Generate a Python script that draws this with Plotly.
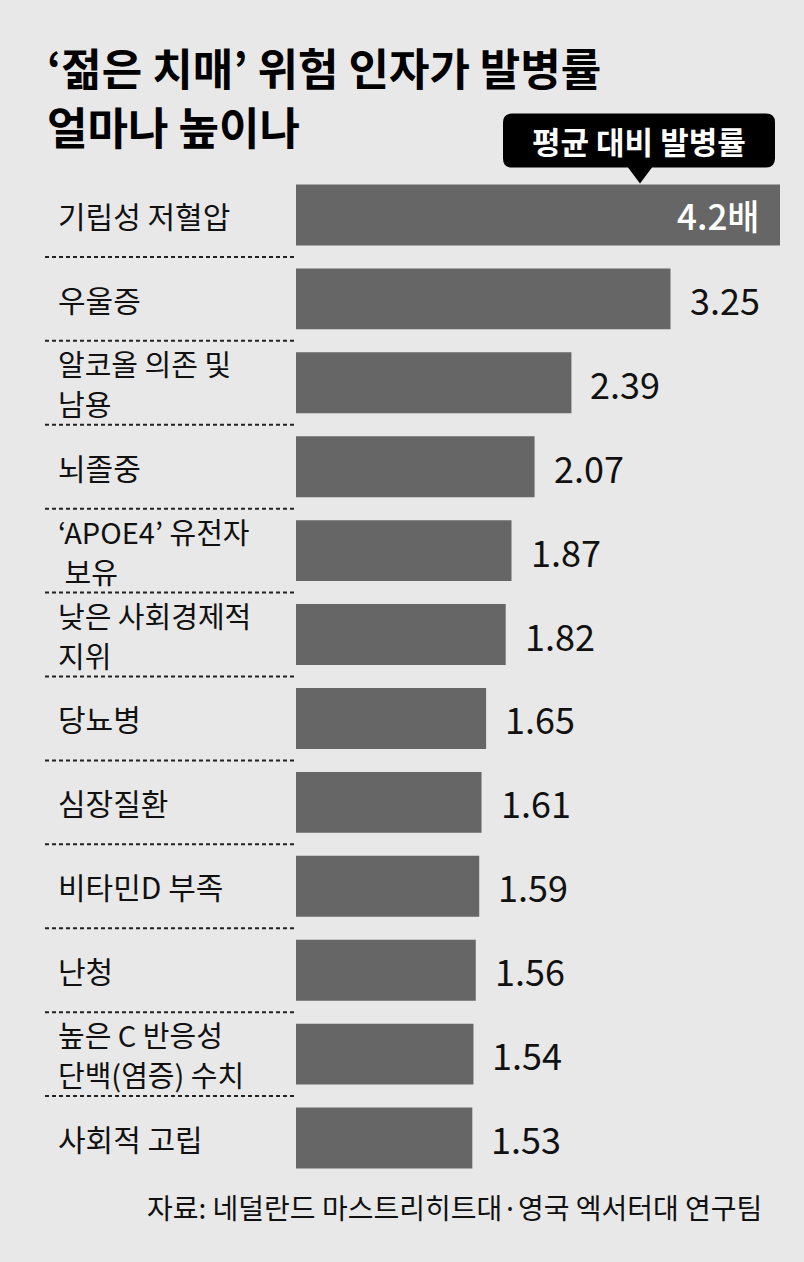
import plotly.graph_objects as go

categories = ["기립성 저혈압", "우울증", "알코올 의존 및<br>남용", "뇌졸중",
              "‘APOE4’ 유전자<br>\u00a0보유", "낮은 사회경제적<br>지위", "당뇨병", "심장질환",
              "비타민D 부족", "난청", "높은 C 반응성<br>단백(염증) 수치", "사회적 고립"]
values = [4.2, 3.25, 2.39, 2.07, 1.87, 1.82, 1.65, 1.61, 1.59, 1.56, 1.54, 1.53]
value_labels = ["4.2배", "3.25", "2.39", "2.07", "1.87", "1.82", "1.65", "1.61",
                "1.59", "1.56", "1.54", "1.53"]
title_lines = ["‘젊은 치매’ 위험 인자가 발병률", "얼마나 높이나"]
legend_text = "평균 대비 발병률"
source_text = "자료: 네덜란드 마스트리히트대·영국 엑서터대 연구팀"

W, H = 804, 1262
L, R = 296, 780
T, B = 172.5, 1180.5
FONT = "Noto Sans CJK KR"
BG = "#e8e8e8"
BAR = "#666666"


def px(x):
    return (x - L) / (R - L)


def py(y):
    return (B - y) / (B - T)


idx = list(range(len(categories)))

fig = go.Figure(go.Bar(
    x=values, y=idx, orientation="h",
    marker=dict(color=BAR, line=dict(width=0)),
    width=0.726, hoverinfo="skip",
))

annotations = []
for i, (c, v, t) in enumerate(zip(categories, values, value_labels)):
    lines = c.split("<br>")
    multi = len(lines) > 1
    shifts = [20, -20] if multi else [0]
    for ln, ys in zip(lines, shifts):
        annotations.append(dict(
            x=px(57), xref="paper", y=i, yref="y", text=ln, showarrow=False,
            xanchor="left", yanchor="middle", align="left", yshift=ys,
            borderpad=0,
            font=dict(family=FONT, size=29 if multi else 30, color="#111111"),
        ))
    if i == 0:
        annotations.append(dict(
            x=v, xref="x", y=i, yref="y", text=t, showarrow=False,
            xanchor="right", yanchor="middle", xshift=-18,
            font=dict(family=FONT, size=35, color="#ffffff", weight=500),
        ))
    else:
        annotations.append(dict(
            x=v, xref="x", y=i, yref="y", text=t, showarrow=False,
            xanchor="left", yanchor="middle", xshift=17,
            font=dict(family=FONT, size=36, color="#111111"),
        ))

for line, yc in zip(title_lines, [66, 125]):
    annotations.append(dict(
        x=px(46), xref="paper", y=py(yc), yref="paper", text=line, showarrow=False,
        xanchor="left", yanchor="middle", borderpad=0,
        font=dict(family=FONT, size=44, color="#000000", weight="bold"),
    ))

annotations.append(dict(
    x=px(639), xref="paper", y=py(140), yref="paper", text=legend_text, showarrow=False,
    xanchor="center", yanchor="middle",
    font=dict(family=FONT, size=31, color="#ffffff", weight="bold"),
))
annotations.append(dict(
    x=px(764), xref="paper", y=py(1208), yref="paper", text=source_text, showarrow=False,
    xanchor="right", yanchor="middle",
    font=dict(family=FONT, size=28, color="#111111"),
))

shapes = []
for i in range(len(categories) - 1):
    shapes.append(dict(
        type="line", xref="paper", yref="y",
        x0=px(45), x1=px(297), y0=i + 0.5, y1=i + 0.5,
        line=dict(color="#222222", width=2, dash="4px,3px"),
    ))

# callout box with rounded corners and pointer
x0, x1, y0, y1, r = 503, 775, 113, 167, 9
pts = [
    f"M {px(x0 + r)},{py(y0)}",
    f"L {px(x1 - r)},{py(y0)}",
    f"Q {px(x1)},{py(y0)} {px(x1)},{py(y0 + r)}",
    f"L {px(x1)},{py(y1 - r)}",
    f"Q {px(x1)},{py(y1)} {px(x1 - r)},{py(y1)}",
    f"L {px(652)},{py(y1)}",
    f"L {px(640)},{py(183)}",
    f"L {px(628)},{py(y1)}",
    f"L {px(x0 + r)},{py(y1)}",
    f"Q {px(x0)},{py(y1)} {px(x0)},{py(y1 - r)}",
    f"L {px(x0)},{py(y0 + r)}",
    f"Q {px(x0)},{py(y0)} {px(x0 + r)},{py(y0)}",
    "Z",
]
shapes.append(dict(
    type="path", xref="paper", yref="paper", path=" ".join(pts),
    fillcolor="#000000", line=dict(width=0), layer="above",
))

fig.update_layout(
    width=W, height=H,
    margin=dict(l=L, r=W - R, t=T, b=H - B, pad=0),
    paper_bgcolor=BG, plot_bgcolor=BG,
    showlegend=False,
    xaxis=dict(range=[0, 4.2], visible=False, fixedrange=True),
    yaxis=dict(range=[len(categories) - 0.5, -0.5], visible=False, fixedrange=True),
    annotations=annotations, shapes=shapes,
    font=dict(family=FONT),
)

fig.write_html(
    "out.html", config={"displayModeBar": False},
    post_script="document.body.style.margin='0';document.body.style.background='#e8e8e8';",
)
